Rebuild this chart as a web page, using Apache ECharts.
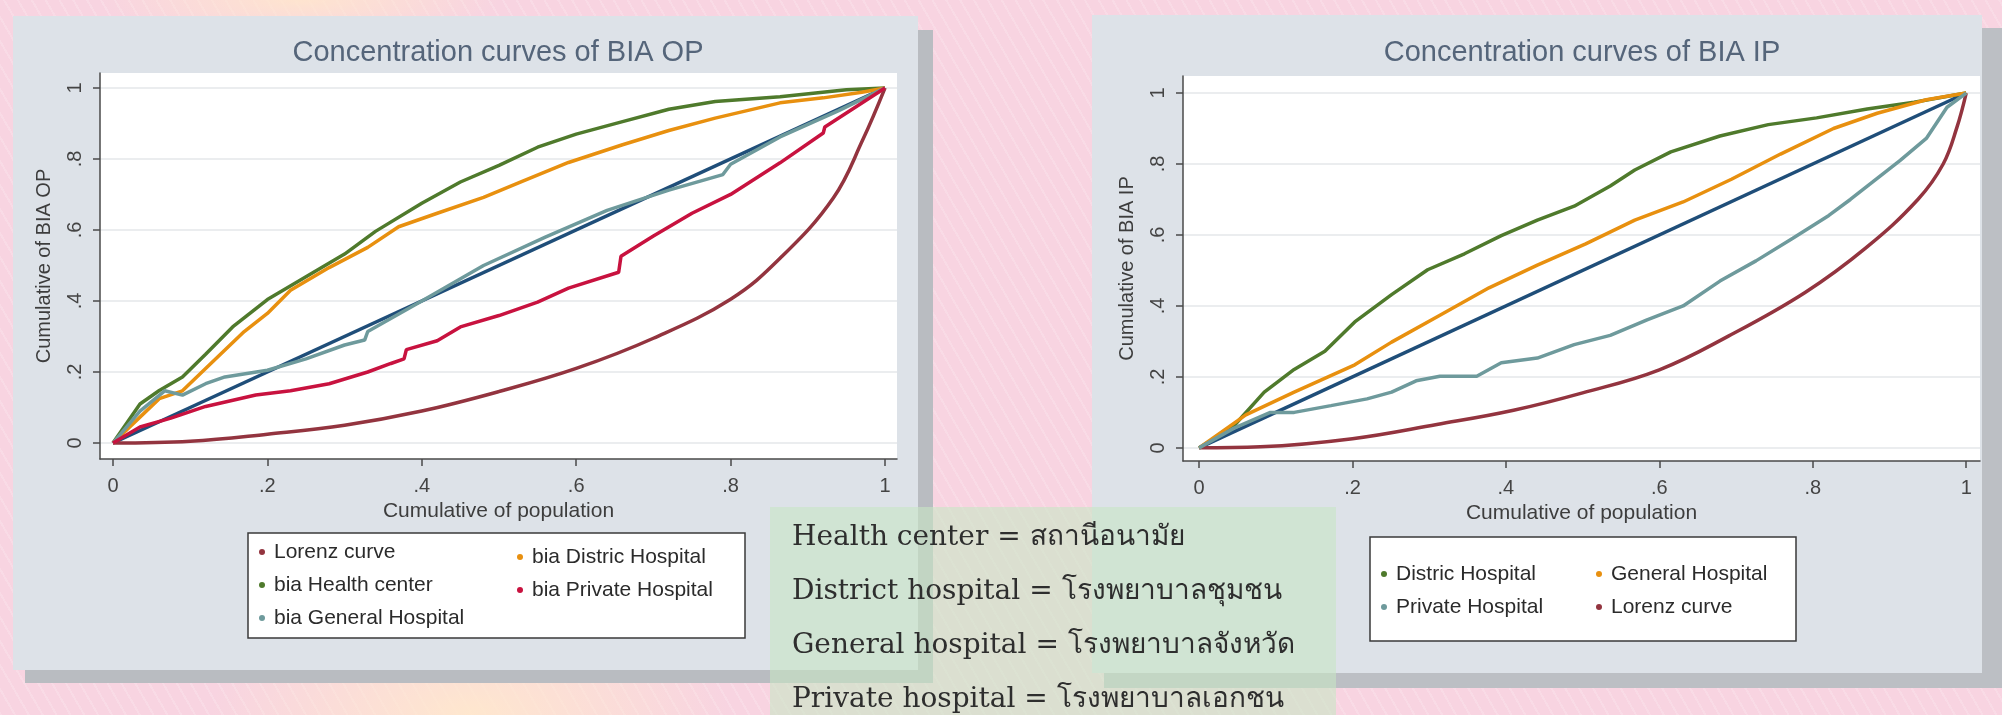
<!DOCTYPE html>
<html>
<head>
<meta charset="utf-8">
<script src="https://cdn.jsdelivr.net/npm/echarts@6/dist/echarts.min.js"></script>
<style>
  html, body {
    margin: 0;
    padding: 0;
    width: 2002px;
    height: 715px;
    overflow: hidden;
    background:
      radial-gradient(ellipse 260px 120px at 470px 715px, rgba(255, 232, 205, 0.95), rgba(255, 232, 205, 0)),
      radial-gradient(ellipse 200px 40px at 300px 0px, rgba(255, 230, 205, 0.9), rgba(255, 230, 205, 0)),
      repeating-linear-gradient(60deg, rgba(255, 255, 255, 0.16) 0 2px, rgba(255, 255, 255, 0) 2px 12px),
      #f8d4e1;
  }
  #chart {
    width: 2002px;
    height: 715px;
  }
</style>
</head>
<body>
<div id="chart"></div>
<script>
// tick positions shared by both panels
const tickValues = [0, 0.2, 0.4, 0.6, 0.8, 1];

// line of equality
const equality = [[0, 0], [1, 1]];

// ---- Concentration curves of BIA OP ----
const lorenzOP = [[0, 0], [0.1, 0.005], [0.2, 0.025], [0.3, 0.05], [0.4, 0.09], [0.5, 0.145], [0.6, 0.21],
  [0.7, 0.295], [0.8, 0.405], [0.864, 0.52], [0.933, 0.69], [0.971, 0.853], [1, 1]];
const healthCenterOP = [[0, 0], [0.035, 0.11], [0.06, 0.148], [0.09, 0.186], [0.12, 0.25], [0.155, 0.327],
  [0.2, 0.404], [0.25, 0.468], [0.3, 0.532], [0.34, 0.596], [0.4, 0.675], [0.45, 0.735], [0.5, 0.782],
  [0.55, 0.833], [0.6, 0.87], [0.66, 0.905], [0.72, 0.94], [0.78, 0.962], [0.864, 0.975], [0.95, 0.995], [1, 1]];
const districtOP = [[0, 0], [0.06, 0.125], [0.09, 0.147], [0.12, 0.21], [0.17, 0.314], [0.2, 0.365],
  [0.23, 0.43], [0.28, 0.494], [0.33, 0.551], [0.37, 0.609], [0.42, 0.647], [0.48, 0.692], [0.53, 0.737],
  [0.59, 0.79], [0.66, 0.84], [0.72, 0.88], [0.78, 0.915], [0.864, 0.958], [0.92, 0.972], [0.97, 0.988], [1, 1]];
const generalOP = [[0, 0], [0.035, 0.09], [0.067, 0.147], [0.09, 0.135], [0.12, 0.167], [0.145, 0.186],
  [0.2, 0.205], [0.25, 0.237], [0.3, 0.276], [0.326, 0.29], [0.33, 0.314], [0.4, 0.4], [0.48, 0.5],
  [0.56, 0.58], [0.64, 0.655], [0.72, 0.712], [0.79, 0.756], [0.8, 0.785], [0.864, 0.862], [0.94, 0.936], [1, 1]];
const privateOP = [[0, 0], [0.035, 0.045], [0.075, 0.07], [0.12, 0.103], [0.185, 0.135], [0.23, 0.147],
  [0.28, 0.167], [0.33, 0.2], [0.36, 0.224], [0.377, 0.237], [0.38, 0.263], [0.42, 0.288], [0.45, 0.327],
  [0.5, 0.359], [0.55, 0.397], [0.59, 0.436], [0.655, 0.481], [0.658, 0.526], [0.7, 0.583], [0.75, 0.647],
  [0.8, 0.7], [0.864, 0.789], [0.92, 0.873], [0.922, 0.89], [1, 1]];

// ---- Concentration curves of BIA IP ----
const lorenzIP = [[0, 0], [0.08, 0.003], [0.2, 0.026], [0.31, 0.066], [0.41, 0.106], [0.5, 0.155], [0.6, 0.22],
  [0.69, 0.315], [0.79, 0.438], [0.87, 0.565], [0.937, 0.7], [0.97, 0.8], [0.988, 0.904], [1, 1]];
const districtIP = [[0, 0], [0.045, 0.061], [0.085, 0.157], [0.124, 0.221], [0.164, 0.272], [0.203, 0.355],
  [0.251, 0.432], [0.298, 0.502], [0.346, 0.547], [0.394, 0.598], [0.441, 0.642], [0.489, 0.681],
  [0.536, 0.738], [0.568, 0.783], [0.615, 0.834], [0.679, 0.879], [0.742, 0.911], [0.805, 0.93],
  [0.871, 0.955], [0.932, 0.974], [1, 1]];
const generalIP = [[0, 0], [0.061, 0.093], [0.124, 0.157], [0.203, 0.234], [0.251, 0.298], [0.314, 0.374],
  [0.378, 0.451], [0.441, 0.515], [0.504, 0.575], [0.568, 0.642], [0.631, 0.693], [0.694, 0.757],
  [0.758, 0.828], [0.827, 0.9], [0.884, 0.943], [0.948, 0.981], [1, 1]];
const privateIP = [[0, 0], [0.045, 0.055], [0.093, 0.1], [0.124, 0.1], [0.172, 0.119], [0.219, 0.138],
  [0.251, 0.157], [0.283, 0.189], [0.314, 0.202], [0.362, 0.202], [0.394, 0.24], [0.441, 0.253],
  [0.489, 0.291], [0.536, 0.317], [0.584, 0.361], [0.631, 0.4], [0.679, 0.47], [0.726, 0.527],
  [0.774, 0.591], [0.821, 0.655], [0.849, 0.7], [0.914, 0.81], [0.948, 0.872], [0.975, 0.96], [1, 1]];

const translations = [
  'Health center = สถานีอนามัย',
  'District hospital = โรงพยาบาลชุมชน',
  'General hospital = โรงพยาบาลจังหวัด',
  'Private hospital = โรงพยาบาลเอกชน'
];

// stata s2color-ish colours
const NAVY = '#1f4e79';
const MAROON = '#93343f';
const GREEN = '#4f7a2c';
const ORANGE = '#e8900f';
const TEAL = '#6e9a9c';
const CRANBERRY = '#c8123f';

const FONT = "'Liberation Sans', Arial, sans-serif";

const fmt = (v) => {
  if (v === 0) return '0';
  if (v === 1) return '1';
  return String(+v.toFixed(1)).replace(/^0/, '');
};

function xAxisFor(gridIndex, min, max) {
  return {
    type: 'value', gridIndex, min, max,
    name: 'Cumulative of population',
    nameLocation: 'middle',
    nameGap: 36,
    nameTextStyle: { fontFamily: FONT, fontSize: 21, color: '#3d3d3d' },
    axisLine: { show: true, onZero: false, lineStyle: { color: '#4a4a4a', width: 1.5 } },
    axisTick: { show: true, length: 7, customValues: tickValues, lineStyle: { color: '#4a4a4a', width: 1.5 } },
    axisLabel: { customValues: tickValues, formatter: fmt, margin: 17, fontFamily: FONT, fontSize: 20, color: '#444' },
    splitLine: { show: false }
  };
}

function yAxisFor(gridIndex, min, max, name) {
  return {
    type: 'value', gridIndex, min, max,
    name,
    nameLocation: 'middle',
    nameGap: 46,
    nameTextStyle: { fontFamily: FONT, fontSize: 20, color: '#3d3d3d' },
    axisLine: { show: true, onZero: false, lineStyle: { color: '#4a4a4a', width: 1.5 } },
    axisTick: { show: true, length: 7, customValues: tickValues, lineStyle: { color: '#4a4a4a', width: 1.5 } },
    axisLabel: { customValues: tickValues, formatter: fmt, rotate: 90, margin: 15, fontFamily: FONT, fontSize: 20, color: '#444' },
    splitLine: { show: true, lineStyle: { color: '#e4e7ea', width: 1.5 } }
  };
}

function line(name, data, color, idx, smooth) {
  return {
    name, type: 'line', data,
    xAxisIndex: idx, yAxisIndex: idx,
    showSymbol: false, symbol: 'circle',
    smooth: smooth || false,
    lineStyle: { color, width: 3.5 },
    itemStyle: { color },
    emphasis: { disabled: true },
    animation: false
  };
}

const legendBase = {
  orient: 'vertical',
  icon: 'circle',
  itemWidth: 6,
  itemHeight: 6,
  itemGap: 11,
  padding: 0,
  z: 10,
  selectedMode: false,
  textStyle: { fontFamily: FONT, fontSize: 21, lineHeight: 22, color: '#2b2b2b', padding: [0, 0, 0, 4] }
};

const chart = echarts.init(document.getElementById('chart'), null, { renderer: 'canvas' });

const option = {
  backgroundColor: 'transparent',
  animation: false,
  title: [
    { text: 'Concentration curves of BIA OP', left: 498, top: 38, textAlign: 'center', padding: 0,
      textStyle: { fontFamily: FONT, fontSize: 29, fontWeight: 'normal', color: '#55657a' } },
    { text: 'Concentration curves of BIA IP', left: 1582, top: 38, textAlign: 'center', padding: 0,
      textStyle: { fontFamily: FONT, fontSize: 29, fontWeight: 'normal', color: '#55657a' } }
  ],
  grid: [
    { left: 100, top: 73, width: 797, height: 386, show: true, backgroundColor: '#ffffff', borderWidth: 0 },
    { left: 1183, top: 76, width: 797, height: 385, show: true, backgroundColor: '#ffffff', borderWidth: 0 }
  ],
  xAxis: [
    xAxisFor(0, -0.0168, 1.0155),
    xAxisFor(1, -0.0209, 1.018)
  ],
  yAxis: [
    yAxisFor(0, -0.045, 1.042, 'Cumulative of BIA OP'),
    yAxisFor(1, -0.037, 1.048, 'Cumulative of BIA IP')
  ],
  legend: [
    Object.assign({}, legendBase, { left: 259, top: 541, data: ['Lorenz curve', 'bia Health center', 'bia General Hospital'] }),
    Object.assign({}, legendBase, { left: 517, top: 546, data: ['bia Distric Hospital', 'bia Private Hospital'] }),
    Object.assign({}, legendBase, { left: 1381, top: 563, data: ['Distric Hospital', 'Private Hospital'] }),
    Object.assign({}, legendBase, { left: 1596, top: 563, data: ['General Hospital', 'Lorenz curve'] })
  ],
  graphic: [
    // panels + drop shadows
    { type: 'rect', z: -20, silent: true, shape: { x: 25, y: 30, width: 908, height: 653 }, style: { fill: '#b9bcc1' } },
    { type: 'rect', z: -19, silent: true, shape: { x: 13, y: 16, width: 905, height: 654 }, style: { fill: '#dde2e8' } },
    { type: 'rect', z: -20, silent: true, shape: { x: 1104, y: 28, width: 898, height: 660 }, style: { fill: '#bcbfc4' } },
    { type: 'rect', z: -19, silent: true, shape: { x: 1092, y: 15, width: 890, height: 658 }, style: { fill: '#dde2e8' } },
    // legend boxes
    { type: 'rect', z: 1, silent: true, shape: { x: 248, y: 533, width: 497, height: 105 },
      style: { fill: '#ffffff', stroke: '#3a3a3a', lineWidth: 1.5 } },
    { type: 'rect', z: 1, silent: true, shape: { x: 1370, y: 537, width: 426, height: 104 },
      style: { fill: '#ffffff', stroke: '#3a3a3a', lineWidth: 1.5 } },
    // thai glossary box
    { type: 'rect', z: 50, silent: true, shape: { x: 770, y: 507, width: 566, height: 208 },
      style: { fill: 'rgba(200, 230, 196, 0.6)' } }
  ].concat(translations.map((t, i) => ({
    type: 'text', z: 51, silent: true, x: 792, y: 538 + i * 54,
    style: { text: t, fill: '#2e2e2e', font: "28px 'DejaVu Serif', 'Liberation Serif', serif", verticalAlign: 'middle' }
  }))),
  series: [
    line('equality', equality, NAVY, 0),
    line('Lorenz curve', lorenzOP, MAROON, 0, 0.4),
    line('bia Health center', healthCenterOP, GREEN, 0),
    line('bia Distric Hospital', districtOP, ORANGE, 0),
    line('bia General Hospital', generalOP, TEAL, 0),
    line('bia Private Hospital', privateOP, CRANBERRY, 0),

    line('equality', equality, NAVY, 1),
    line('Lorenz curve', lorenzIP, MAROON, 1, 0.4),
    line('Distric Hospital', districtIP, GREEN, 1),
    line('General Hospital', generalIP, ORANGE, 1),
    line('Private Hospital', privateIP, TEAL, 1)
  ]
};

chart.setOption(option);
</script>
</body>
</html>
